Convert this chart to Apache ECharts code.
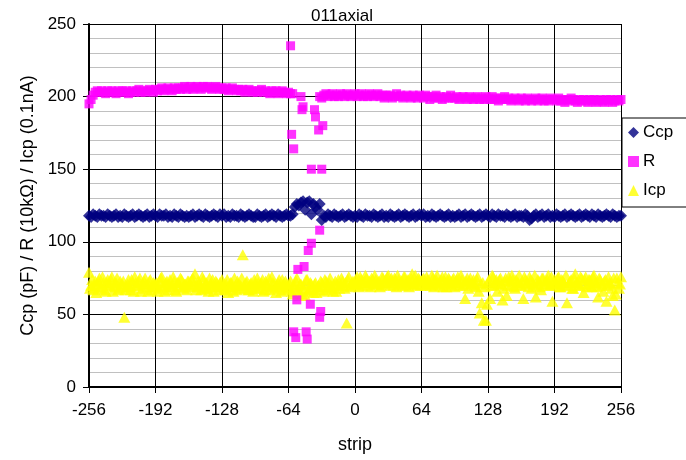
<!DOCTYPE html>
<html>
<head>
<meta charset="utf-8">
<script src="https://cdn.jsdelivr.net/npm/echarts@6/dist/echarts.min.js"></script>
<style>
html,body{margin:0;padding:0;background:#fff;}
#chart{width:686px;height:460px;}
</style>
</head>
<body>
<div id="chart"></div>
<script>
// Even strip numbers (used by Ccp, R and half of Icp)
const stripsEven = [-256,-254,-252,-250,-248,-246,-244,-242,-240,-238,-236,-234,-232,-230,-228,-226,
-224,-222,-220,-218,-216,-214,-212,-210,-208,-206,-204,-202,-200,-198,-196,-194,
-192,-190,-188,-186,-184,-182,-180,-178,-176,-174,-172,-170,-168,-166,-164,-162,
-160,-158,-156,-154,-152,-150,-148,-146,-144,-142,-140,-138,-136,-134,-132,-130,
-128,-126,-124,-122,-120,-118,-116,-114,-112,-110,-108,-106,-104,-102,-100,-98,
-96,-94,-92,-90,-88,-86,-84,-82,-80,-78,-76,-74,-72,-70,-68,-66,
-64,-62,-60,-58,-56,-54,-52,-50,-48,-46,-44,-42,-40,-38,-36,-34,
-32,-30,-28,-26,-24,-22,-20,-18,-16,-14,-12,-10,-8,-6,-4,-2,
0,2,4,6,8,10,12,14,16,18,20,22,24,26,28,30,
32,34,36,38,40,42,44,46,48,50,52,54,56,58,60,62,
64,66,68,70,72,74,76,78,80,82,84,86,88,90,92,94,
96,98,100,102,104,106,108,110,112,114,116,118,120,122,124,126,
128,130,132,134,136,138,140,142,144,146,148,150,152,154,156,158,
160,162,164,166,168,170,172,174,176,178,180,182,184,186,188,190,
192,194,196,198,200,202,204,206,208,210,212,214,216,218,220,222,
224,226,228,230,232,234,236,238,240,242,244,246,248,250,252,254,
256];

// Odd strip numbers (other half of Icp)
const stripsOdd = [-255,-253,-251,-249,-247,-245,-243,-241,-239,-237,-235,-233,-231,-229,-227,-225,
-223,-221,-219,-217,-215,-213,-211,-209,-207,-205,-203,-201,-199,-197,-195,-193,
-191,-189,-187,-185,-183,-181,-179,-177,-175,-173,-171,-169,-167,-165,-163,-161,
-159,-157,-155,-153,-151,-149,-147,-145,-143,-141,-139,-137,-135,-133,-131,-129,
-127,-125,-123,-121,-119,-117,-115,-113,-111,-109,-107,-105,-103,-101,-99,-97,
-95,-93,-91,-89,-87,-85,-83,-81,-79,-77,-75,-73,-71,-69,-67,-65,
-63,-61,-59,-57,-55,-53,-51,-49,-47,-45,-43,-41,-39,-37,-35,-33,
-31,-29,-27,-25,-23,-21,-19,-17,-15,-13,-11,-9,-7,-5,-3,-1,
1,3,5,7,9,11,13,15,17,19,21,23,25,27,29,31,
33,35,37,39,41,43,45,47,49,51,53,55,57,59,61,63,
65,67,69,71,73,75,77,79,81,83,85,87,89,91,93,95,
97,99,101,103,105,107,109,111,113,115,117,119,121,123,125,127,
129,131,133,135,137,139,141,143,145,147,149,151,153,155,157,159,
161,163,165,167,169,171,173,175,177,179,181,183,185,187,189,191,
193,195,197,199,201,203,205,207,209,211,213,215,217,219,221,223,
225,227,229,231,233,235,237,239,241,243,245,247,249,251,253,255];

// Ccp (pF) on even strips
const ccpValues = [118,117,119,118,117,119,118,118,117,119,118,117,118,119,117,118,
117,119,118,117,118,119,117,118,119,118,117,118,119,117,118,119,
118,117,119,118,118,119,117,118,117,119,118,117,119,118,117,118,
117,118,119,117,118,119,118,117,119,118,117,118,119,118,117,119,
118,119,117,118,117,119,118,118,117,119,118,117,118,119,118,117,
117,119,118,117,118,119,117,118,119,118,117,119,118,117,118,119,
118,118,119,124,126,125,127,128,122,127,128,119,126,124,122,126,
115,118,117,119,118,117,119,118,117,118,119,117,118,119,118,117,
118,117,119,118,117,119,118,118,117,119,118,117,118,119,117,118,
117,119,118,117,118,119,117,118,119,118,117,118,119,117,118,119,
118,119,117,118,117,119,118,117,118,119,118,117,118,119,117,118,
117,118,119,117,118,119,117,118,119,118,117,118,119,117,118,119,
118,117,119,118,117,119,118,118,117,119,118,117,118,119,117,118,
118,117,119,118,115,116,118,119,117,118,119,117,118,119,117,118,
117,119,118,117,118,119,117,118,119,118,117,118,119,117,118,119,
118,117,119,118,117,119,118,117,118,119,118,117,119,118,117,118,
118];

// R (10 kOhm) on even strips; null where the strip is in the damaged region
const rValues = [195,198,201,203,204,203,204,203,202,204,203,204,203,202,204,203,
204,203,204,202,203,204,203,204,205,203,204,203,204,205,204,203,
205,204,205,206,204,205,206,205,204,206,205,206,205,206,207,205,
206,207,205,206,207,206,205,207,206,207,206,205,206,207,206,205,
206,205,206,204,205,206,205,204,205,204,205,203,204,205,204,203,
204,203,204,205,203,204,203,202,204,203,204,202,203,204,203,202,
203,202,202,null,null,null,null,null,null,null,null,null,null,null,null,200,
199,201,202,200,201,202,200,201,200,202,201,200,202,201,200,201,
202,200,201,202,200,201,200,202,201,200,201,202,200,201,199,201,
200,201,199,200,202,200,201,199,200,201,200,199,201,200,199,201,
200,199,201,200,198,200,199,201,199,200,198,199,200,199,201,199,
199,200,198,199,200,199,198,200,199,198,199,200,198,199,198,200,
199,198,200,198,199,197,199,198,200,198,199,197,198,199,198,197,
199,198,197,199,198,197,198,199,197,198,199,197,198,197,199,198,
198,197,199,197,198,196,198,197,199,198,197,196,198,197,198,197,
196,198,197,198,196,197,198,197,196,198,197,198,196,197,198,197,
198];

// R values of the damaged strips near -64 .. -30
const rDipStrips = [-62,-61,-59,-52,-51,-50,-39,-38,-35,-31,-42,-32,-34,-42,-45,-49,-55,-56,-43,-33,-34,-59,-57,-47,-46];
const rDipValues = [235,174,164,200,191,193,191,186,177,180,150,150,108,99,94,83,81,60,57,52,48,38,34,38,33];

// Icp (0.1 nA) on even strips
const icpEven = [79,70,67,73,71,75,68,72,66,74,70,76,69,72,67,73,
71,48,69,74,67,72,76,70,73,66,71,75,69,73,67,72,
70,66,73,76,69,72,67,74,70,73,66,72,75,69,71,67,
73,70,75,78,69,72,67,74,71,68,75,70,66,73,69,72,
74,68,71,65,72,69,75,67,71,70,91,68,73,67,72,66,
71,75,68,72,66,73,70,67,76,71,65,72,69,74,67,71,
68,73,64,70,75,66,71,68,63,74,67,71,65,72,69,67,
72,66,73,69,75,68,71,66,74,70,73,68,44,76,70,73,
71,76,69,74,72,77,70,73,75,71,74,72,69,76,71,74,
77,70,73,75,69,74,72,70,76,73,69,75,71,77,70,74,
73,75,70,74,71,77,69,74,72,70,76,73,69,75,71,74,
69,74,72,77,70,61,75,73,71,74,69,76,51,58,46,46,
72,61,77,70,74,71,75,60,73,63,76,70,74,68,72,77,
70,61,74,72,76,68,71,62,74,69,75,71,73,77,70,59,
74,71,76,69,73,70,58,72,74,68,78,72,70,75,65,76,
71,74,69,77,72,62,74,70,73,59,76,71,63,53,75,68,
76];

// Icp (0.1 nA) on odd strips
const icpOdd = [68,74,70,65,73,69,76,67,72,70,74,66,71,75,68,70,
73,67,71,69,74,66,72,70,75,68,73,71,66,74,69,71,
72,68,75,70,66,73,71,69,76,67,72,70,74,68,71,73,
69,74,71,67,73,70,76,68,72,66,71,74,69,72,67,70,
71,67,74,69,72,66,70,73,68,75,70,72,67,71,69,74,
68,72,70,74,67,71,75,69,72,68,70,74,66,71,73,69,
71,66,69,73,67,71,64,70,74,66,72,68,71,65,70,73,
69,74,67,72,70,66,73,71,68,75,70,72,74,69,72,71,
74,71,76,70,73,75,72,69,74,77,71,73,70,75,72,76,
72,75,70,74,77,71,73,76,70,74,72,78,71,73,75,70,
74,71,76,72,70,75,73,77,71,74,69,76,72,74,70,75,
72,76,70,74,71,73,68,75,72,70,74,66,71,72,69,57,
74,70,76,72,66,74,71,68,75,70,73,77,69,74,72,70,
73,76,71,69,74,72,77,70,73,67,75,71,74,70,76,72,
71,75,69,74,72,77,70,73,68,75,72,70,76,71,74,69,
74,70,76,72,69,75,71,66,74,70,72,68,75,64,72,71];

const xTicks = {min: -256, max: 256, interval: 64};
const yTicks = {min: 0, max: 250, interval: 50};

function pairs(xs, ys) {
  const out = [];
  const n = Math.min(xs.length, ys.length);
  for (let i = 0; i < n; i++) {
    if (ys[i] !== null && ys[i] !== undefined) out.push([xs[i], ys[i]]);
  }
  return out;
}

const ccpData = pairs(stripsEven, ccpValues);
const rData = pairs(stripsEven, rValues).concat(pairs(rDipStrips, rDipValues));
const icpData = pairs(stripsEven, icpEven).concat(pairs(stripsOdd, icpOdd));

const FONT = 'Liberation Sans, Arial, sans-serif';
const chart = echarts.init(document.getElementById('chart'), null, {renderer: 'canvas'});
chart.setOption({
  animation: false,
  backgroundColor: '#ffffff',
  textStyle: {fontFamily: FONT, color: '#000'},
  title: {
    text: '011axial',
    left: 337, top: 3, textAlign: 'center',
    textStyle: {fontFamily: FONT, fontSize: 17, fontWeight: 'normal', color: '#000'}
  },
  legend: {
    orient: 'vertical',
    left: 622, top: 118,
    padding: [6, 40, 8, 6],
    borderColor: '#000', borderWidth: 1,
    itemWidth: 11, itemHeight: 11, itemGap: 12,
    textStyle: {fontFamily: FONT, fontSize: 17, color: '#000', padding: [0,0,0,-1]},
    data: [
      {name: 'Ccp', icon: 'diamond'},
      {name: 'R', icon: 'rect'},
      {name: 'Icp', icon: 'triangle'}
    ]
  },
  grid: {left: 89, right: 65, top: 24, bottom: 73, containLabel: false},
  xAxis: {
    type: 'value',
    min: xTicks.min, max: xTicks.max, interval: xTicks.interval,
    name: 'strip', nameLocation: 'middle', nameGap: 49,
    nameTextStyle: {fontFamily: FONT, fontSize: 18, color: '#000'},
    axisLine: {show: true, onZero: false, lineStyle: {color: '#000', width: 2}},
    axisTick: {show: true, length: 6, lineStyle: {color: '#000'}},
    axisLabel: {fontFamily: FONT, fontSize: 17, color: '#000', margin: 15},
    splitLine: {show: true, lineStyle: {color: '#000', width: 1}}
  },
  yAxis: {
    type: 'value',
    min: yTicks.min, max: yTicks.max, interval: yTicks.interval,
    name: 'Ccp (pF) / R (10kΩ) / Icp (0.1nA)', nameLocation: 'middle', nameGap: 49,
    nameTextStyle: {fontFamily: FONT, fontSize: 18, color: '#000'},
    axisLine: {show: true, onZero: false, lineStyle: {color: '#000', width: 2}},
    axisTick: {show: true, length: 6, lineStyle: {color: '#000'}},
    axisLabel: {fontFamily: FONT, fontSize: 17, color: '#000', margin: 13},
    splitLine: {show: true, lineStyle: {color: '#000', width: 1}},
    minorTick: {show: false, splitNumber: 5},
    minorSplitLine: {show: true, lineStyle: {color: '#c0c0c0', width: 1}}
  },
  series: [
    {
      name: 'Ccp', type: 'scatter', symbol: 'diamond', symbolSize: 12, z: 4,
      large: false, progressive: 0,
      itemStyle: {color: '#000080'},
      data: ccpData
    },
    {
      name: 'R', type: 'scatter', symbol: 'rect', symbolSize: 9, z: 3,
      large: false, progressive: 0,
      itemStyle: {color: '#ff00ff'},
      data: rData
    },
    {
      name: 'Icp', type: 'scatter', symbol: 'triangle', symbolSize: [12, 11], z: 2,
      large: false, progressive: 0,
      itemStyle: {color: '#ffff00'},
      data: icpData
    }
  ]
});
</script>
</body>
</html>
